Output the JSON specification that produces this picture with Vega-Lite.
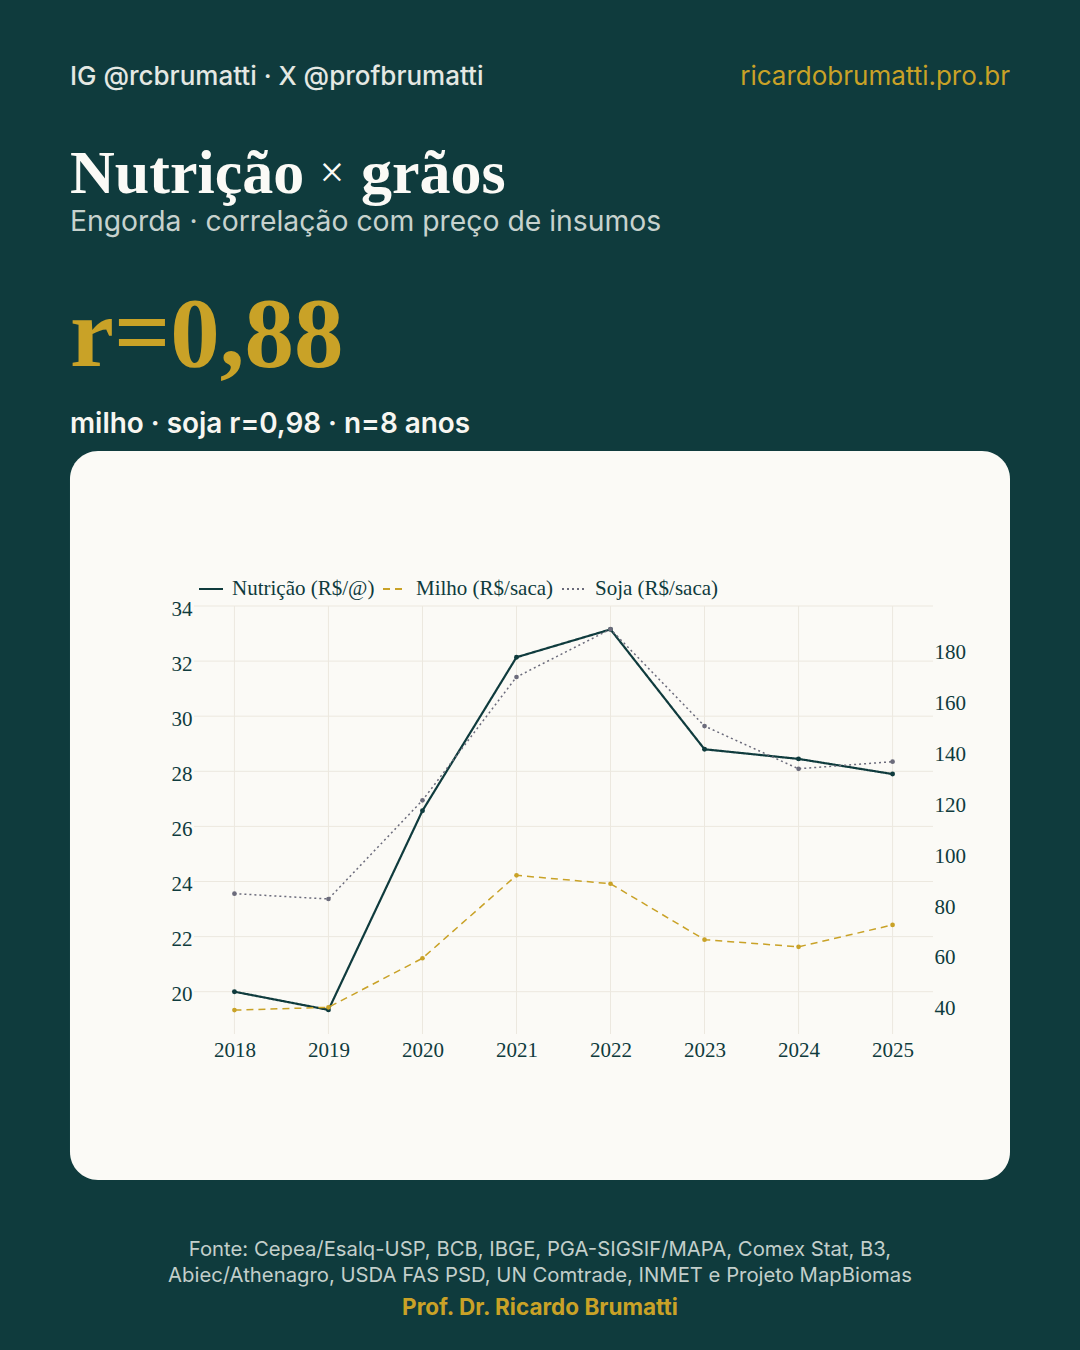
{
  "$schema": "https://vega.github.io/schema/vega-lite/v6.json",
  "width": 739,
  "height": 428,
  "autosize": {"type": "none"},
  "padding": {"left": 194, "top": 606, "right": 147, "bottom": 316},
  "background": "#0f3b3d",
  "config": {
    "view": {"stroke": null},
    "axis": {"labelFont": "Liberation Serif", "labelFontSize": 21, "labelColor": "#0f3b3d", "ticks": false, "domain": false, "grid": false, "title": null, "labelFlush": false},
    "legend": {"orient": "none", "legendX": 4, "legendY": -30, "direction": "horizontal", "symbolType": "stroke", "symbolSize": 576, "symbolStrokeWidth": 2, "labelFont": "Liberation Serif", "labelFontSize": 21, "labelColor": "#0f3b3d", "columnPadding": 4, "labelOffset": 8, "title": null, "zindex": 2}
  },
  "datasets": {
    "series": [
      {"ano": 2018, "serie": "Nutrição (R$/@)", "valor": 20.0},
      {"ano": 2019, "serie": "Nutrição (R$/@)", "valor": 19.34},
      {"ano": 2020, "serie": "Nutrição (R$/@)", "valor": 26.57},
      {"ano": 2021, "serie": "Nutrição (R$/@)", "valor": 32.14},
      {"ano": 2022, "serie": "Nutrição (R$/@)", "valor": 33.15},
      {"ano": 2023, "serie": "Nutrição (R$/@)", "valor": 28.8},
      {"ano": 2024, "serie": "Nutrição (R$/@)", "valor": 28.45},
      {"ano": 2025, "serie": "Nutrição (R$/@)", "valor": 27.9},
      {"ano": 2018, "serie": "Milho (R$/saca)", "valor": 38.3},
      {"ano": 2019, "serie": "Milho (R$/saca)", "valor": 39.4},
      {"ano": 2020, "serie": "Milho (R$/saca)", "valor": 58.7},
      {"ano": 2021, "serie": "Milho (R$/saca)", "valor": 91.3},
      {"ano": 2022, "serie": "Milho (R$/saca)", "valor": 88.0},
      {"ano": 2023, "serie": "Milho (R$/saca)", "valor": 66.0},
      {"ano": 2024, "serie": "Milho (R$/saca)", "valor": 63.2},
      {"ano": 2025, "serie": "Milho (R$/saca)", "valor": 71.8},
      {"ano": 2018, "serie": "Soja (R$/saca)", "valor": 84.1},
      {"ano": 2019, "serie": "Soja (R$/saca)", "valor": 82.0},
      {"ano": 2020, "serie": "Soja (R$/saca)", "valor": 120.8},
      {"ano": 2021, "serie": "Soja (R$/saca)", "valor": 169.3},
      {"ano": 2022, "serie": "Soja (R$/saca)", "valor": 188.1},
      {"ano": 2023, "serie": "Soja (R$/saca)", "valor": 150.0},
      {"ano": 2024, "serie": "Soja (R$/saca)", "valor": 133.2},
      {"ano": 2025, "serie": "Soja (R$/saca)", "valor": 136.0}
    ],
    "grade": [{"v": 20}, {"v": 22}, {"v": 24}, {"v": 26}, {"v": 28}, {"v": 30}, {"v": 32}, {"v": 34}],
    "one": [{}]
  },
  "layer": [
    {
      "layer": [
        {
          "data": {"name": "one"},
          "mark": {"type": "rect", "fill": "#fbfaf6", "cornerRadius": 28},
          "encoding": {
            "x": {"datum": 2016.251, "type": "quantitative", "scale": {"domain": [2017.57, 2025.43], "nice": false, "zero": false}, "axis": {"values": [2018, 2019, 2020, 2021, 2022, 2023, 2024, 2025], "format": "d", "labelPadding": 5, "zindex": 3}},
            "x2": {"datum": 2026.249},
            "y": {"datum": 39.626, "type": "quantitative", "scale": {"domain": [18.465, 34], "nice": false, "zero": false}, "axis": {"orient": "left", "values": [20, 22, 24, 26, 28, 30, 32, 34], "labelPadding": 2, "labelOffset": 3, "zindex": 3}},
            "y2": {"datum": 13.166}
          }
        },
        {
          "data": {"name": "grade"},
          "mark": {"type": "rule", "color": "#ece8df", "strokeWidth": 1},
          "encoding": {
            "y": {"field": "v", "type": "quantitative"}
          }
        },
        {
          "data": {"name": "series"},
          "transform": [{"filter": "datum.serie === 'Nutrição (R$/@)'"}],
          "mark": {"type": "rule", "color": "#ece8df", "strokeWidth": 1},
          "encoding": {
            "x": {"field": "ano", "type": "quantitative"}
          }
        },
        {
          "data": {"name": "series"},
          "transform": [{"filter": "datum.serie === 'Nutrição (R$/@)'"}],
          "mark": {"type": "line", "strokeWidth": 2.2, "point": {"filled": true, "size": 24}},
          "encoding": {
            "x": {"field": "ano", "type": "quantitative"},
            "y": {"field": "valor", "type": "quantitative"},
            "color": {"field": "serie", "type": "nominal", "scale": {"domain": ["Nutrição (R$/@)", "Milho (R$/saca)", "Soja (R$/saca)"], "range": ["#0f3b3d", "#c9a227", "#6b6b7b"]}, "legend": {"title": null}},
            "strokeDash": {"field": "serie", "type": "nominal", "scale": {"domain": ["Nutrição (R$/@)", "Milho (R$/saca)", "Soja (R$/saca)"], "range": [[1, 0], [7, 5], [2, 3]]}, "legend": {"title": null}}
          }
        },
        {
          "data": {"name": "one"},
          "mark": {"type": "text", "text": "IG @rcbrumatti · X @profbrumatti", "font": "Inter", "fontSize": 26, "fontWeight": 500, "color": "#e4e8e3", "align": "left", "baseline": "alphabetic"},
          "encoding": {
            "x": {"datum": 2016.251, "type": "quantitative"},
            "y": {"datum": 52.91, "type": "quantitative"}
          }
        },
        {
          "data": {"name": "one"},
          "mark": {"type": "text", "text": "ricardobrumatti.pro.br", "font": "Inter", "fontSize": 26, "fontWeight": 400, "color": "#c9a227", "align": "right", "baseline": "alphabetic"},
          "encoding": {
            "x": {"datum": 2026.249, "type": "quantitative"},
            "y": {"datum": 52.91, "type": "quantitative"}
          }
        },
        {
          "data": {"name": "one"},
          "mark": {"type": "text", "text": "Nutrição", "font": "Liberation Serif", "fontSize": 62, "fontWeight": "bold", "color": "#fbfaf6", "align": "left", "baseline": "alphabetic"},
          "encoding": {
            "x": {"datum": 2016.251, "type": "quantitative"},
            "y": {"datum": 48.99, "type": "quantitative"}
          }
        },
        {
          "data": {"name": "one"},
          "mark": {"type": "text", "text": "×", "font": "Liberation Serif", "fontSize": 44, "fontWeight": "normal", "color": "#fbfaf6", "align": "center", "baseline": "alphabetic"},
          "encoding": {
            "x": {"datum": 2019.038, "type": "quantitative"},
            "y": {"datum": 49.2, "type": "quantitative"}
          }
        },
        {
          "data": {"name": "one"},
          "mark": {"type": "text", "text": "grãos", "font": "Liberation Serif", "fontSize": 62, "fontWeight": "bold", "color": "#fbfaf6", "align": "left", "baseline": "alphabetic"},
          "encoding": {
            "x": {"datum": 2019.346, "type": "quantitative"},
            "y": {"datum": 48.99, "type": "quantitative"}
          }
        },
        {
          "data": {"name": "one"},
          "mark": {"type": "text", "text": "Engorda · correlação com preço de insumos", "font": "Inter", "fontSize": 28.3, "fontWeight": 400, "color": "#c7d2ce", "align": "left", "baseline": "alphabetic"},
          "encoding": {
            "x": {"datum": 2016.251, "type": "quantitative"},
            "y": {"datum": 47.611, "type": "quantitative"}
          }
        },
        {
          "data": {"name": "one"},
          "mark": {"type": "text", "text": "r=0,88", "font": "Liberation Serif", "fontSize": 99, "fontWeight": "bold", "color": "#c9a227", "align": "left", "baseline": "alphabetic"},
          "encoding": {
            "x": {"datum": 2016.251, "type": "quantitative"},
            "y": {"datum": 42.711, "type": "quantitative"}
          }
        },
        {
          "data": {"name": "one"},
          "mark": {"type": "text", "text": "milho · soja r=0,98 · n=8 anos", "font": "Inter", "fontSize": 27.9, "fontWeight": 600, "color": "#f7f6f1", "align": "left", "baseline": "alphabetic"},
          "encoding": {
            "x": {"datum": 2016.251, "type": "quantitative"},
            "y": {"datum": 40.279, "type": "quantitative"}
          }
        },
        {
          "data": {"name": "one"},
          "mark": {"type": "text", "text": "Fonte: Cepea/Esalq-USP, BCB, IBGE, PGA-SIGSIF/MAPA, Comex Stat, B3,", "font": "Inter", "fontSize": 20.3, "fontWeight": 400, "color": "#c3cfcb", "align": "center", "baseline": "alphabetic"},
          "encoding": {
            "x": {"datum": 2021.25, "type": "quantitative"},
            "y": {"datum": 10.407, "type": "quantitative"}
          }
        },
        {
          "data": {"name": "one"},
          "mark": {"type": "text", "text": "Abiec/Athenagro, USDA FAS PSD, UN Comtrade, INMET e Projeto MapBiomas", "font": "Inter", "fontSize": 20.3, "fontWeight": 400, "color": "#c3cfcb", "align": "center", "baseline": "alphabetic"},
          "encoding": {
            "x": {"datum": 2021.25, "type": "quantitative"},
            "y": {"datum": 9.464, "type": "quantitative"}
          }
        },
        {
          "data": {"name": "one"},
          "mark": {"type": "text", "text": "Prof. Dr. Ricardo Brumatti", "font": "Inter", "fontSize": 22.5, "fontWeight": 700, "color": "#c9a227", "align": "center", "baseline": "alphabetic"},
          "encoding": {
            "x": {"datum": 2021.25, "type": "quantitative"},
            "y": {"datum": 8.266, "type": "quantitative"}
          }
        }
      ]
    },
    {
      "layer": [
        {
          "data": {"name": "series"},
          "transform": [{"filter": "datum.serie === 'Milho (R$/saca)'"}],
          "mark": {"type": "line", "strokeWidth": 1.5, "point": {"filled": true, "size": 22}},
          "encoding": {
            "x": {"field": "ano", "type": "quantitative"},
            "y": {"field": "valor", "type": "quantitative", "scale": {"domain": [28.91, 197.22], "nice": false, "zero": false}, "axis": {"orient": "right", "values": [40, 60, 80, 100, 120, 140, 160, 180], "labelPadding": 1, "labelOffset": 3, "zindex": 3}},
            "color": {"field": "serie", "type": "nominal"},
            "strokeDash": {"field": "serie", "type": "nominal"}
          }
        },
        {
          "data": {"name": "series"},
          "transform": [{"filter": "datum.serie === 'Soja (R$/saca)'"}],
          "mark": {"type": "line", "strokeWidth": 1.5, "point": {"filled": true, "size": 22}},
          "encoding": {
            "x": {"field": "ano", "type": "quantitative"},
            "y": {"field": "valor", "type": "quantitative"},
            "color": {"field": "serie", "type": "nominal"},
            "strokeDash": {"field": "serie", "type": "nominal"}
          }
        }
      ]
    }
  ],
  "resolve": {"scale": {"y": "independent"}}
}
